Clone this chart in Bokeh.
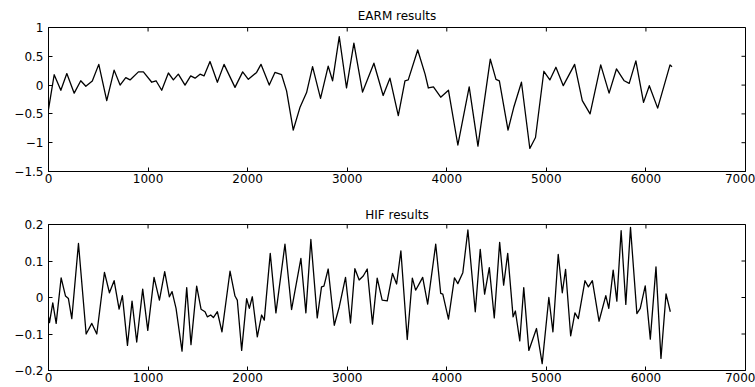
import math
from bokeh.plotting import figure
from bokeh.layouts import column
from bokeh.models import Range1d, FixedTicker, LinearAxis
from bokeh.embed import file_html
from bokeh.resources import INLINE

# ---- data ----
earm_x = [0, 57, 124, 184, 258, 324, 375, 440, 505, 585, 659, 719, 776, 819, 903, 953,
          1037, 1080, 1137, 1204, 1254, 1304, 1371, 1428, 1472, 1522, 1562, 1622, 1696,
          1763, 1873, 1950, 2007, 2090, 2134, 2217, 2274, 2341, 2391, 2458, 2525, 2592,
          2652, 2732, 2809, 2853, 2920, 2993, 3067, 3154, 3268, 3361, 3429, 3513, 3580,
          3613, 3708, 3782, 3815, 3866, 3939, 4017, 4111, 4225, 4313, 4437, 4494, 4528,
          4615, 4672, 4750, 4834, 4891, 4975, 5035, 5096, 5170, 5284, 5361, 5439, 5546,
          5630, 5704, 5782, 5832, 5899, 5976, 6034, 6118, 6242, 6262]
earm_y = [-0.42, 0.18, -0.09, 0.20, -0.14, 0.075, -0.02, 0.07, 0.36, -0.27, 0.26, 0.0,
          0.13, 0.09, 0.23, 0.23, 0.05, 0.075, -0.09, 0.21, 0.09, 0.19, 0.0, 0.16, 0.12,
          0.19, 0.16, 0.41, 0.05, 0.36, -0.04, 0.23, 0.10, 0.22, 0.36, 0.0, 0.22, 0.18,
          -0.10, -0.78, -0.39, -0.13, 0.32, -0.23, 0.33, 0.075, 0.84, -0.05, 0.73, -0.12,
          0.38, -0.18, 0.12, -0.53, 0.075, 0.09, 0.61, 0.19, -0.05, -0.03, -0.21, -0.09,
          -1.04, -0.03, -1.06, 0.45, 0.10, 0.075, -0.78, -0.39, 0.05, -1.10, -0.91, 0.24,
          0.09, 0.31, -0.01, 0.36, -0.27, -0.50, 0.35, -0.14, 0.28, 0.075, 0.03, 0.42,
          -0.30, -0.01, -0.40, 0.35, 0.32]

hif_x = [0, 10, 43, 77, 127, 171, 200, 234, 301, 378, 435, 485, 562, 612, 659, 709, 742,
         793, 839, 886, 946, 997, 1060, 1114, 1167, 1214, 1241, 1281, 1341, 1388, 1431,
         1488, 1532, 1572, 1595, 1629, 1656, 1696, 1742, 1823, 1873, 1896, 1940, 1990,
         2017, 2047, 2097, 2140, 2167, 2227, 2284, 2375, 2441, 2535, 2585, 2635, 2699,
         2742, 2766, 2809, 2870, 2920, 2983, 3033, 3077, 3120, 3161, 3201, 3254, 3301,
         3351, 3402, 3455, 3496, 3539, 3603, 3654, 3687, 3724, 3758, 3808, 3889, 3939,
         3960, 4017, 4077, 4111, 4161, 4212, 4286, 4336, 4380, 4427, 4477, 4531, 4571,
         4612, 4666, 4689, 4733, 4773, 4824, 4901, 4958, 5025, 5066, 5119, 5160, 5193,
         5244, 5287, 5321, 5388, 5422, 5462, 5529, 5597, 5627, 5671, 5708, 5751, 5798,
         5845, 5909, 5943, 5993, 6044, 6101, 6151, 6202, 6245]
hif_y = [-0.053, -0.069, -0.015, -0.071, 0.054, 0.004, -0.003, -0.058, 0.148, -0.100,
         -0.071, -0.100, 0.069, 0.013, 0.046, -0.032, 0.005, -0.131, -0.010, -0.122,
         0.023, -0.090, 0.055, -0.007, 0.071, 0.002, 0.016, -0.030, -0.147, 0.027, -0.129,
         0.031, -0.032, -0.039, -0.053, -0.048, -0.055, -0.039, -0.094, 0.072, 0.004,
         -0.007, -0.145, -0.003, -0.030, 0.002, -0.108, -0.048, -0.062, 0.121, -0.042,
         0.146, -0.033, 0.107, -0.042, 0.159, -0.056, 0.029, 0.031, 0.078, -0.076, -0.026,
         0.055, -0.070, 0.079, 0.048, 0.059, 0.078, -0.073, 0.053, -0.007, -0.009, 0.066,
         0.037, 0.128, -0.115, 0.053, 0.020, 0.038, 0.055, -0.018, 0.146, 0.011, 0.009,
         -0.059, 0.054, 0.038, 0.068, 0.185, -0.039, 0.132, 0.009, 0.082, -0.056, 0.151,
         0.034, 0.121, -0.053, -0.037, -0.119, 0.027, -0.145, -0.085, -0.181, 0.000,
         -0.094, 0.118, 0.013, 0.077, -0.105, -0.042, -0.058, 0.046, 0.029, 0.046, -0.065,
         0.005, -0.030, 0.075, -0.010, 0.183, -0.019, 0.192, -0.044, -0.030, 0.032, -0.114,
         0.084, -0.167, 0.010, -0.039]

x_ticks = [0, 1000, 2000, 3000, 4000, 5000, 6000, 7000]
x_tick_labels = ["0", "1000", "2000", "3000", "4000", "5000", "6000", "7000"]
earm_y_ticks = [-1.5, -1, -0.5, 0, 0.5, 1]
earm_y_labels = ["\u22121.5", "\u22121", "\u22120.5", "0", "0.5", "1"]
hif_y_ticks = [-0.2, -0.1, 0, 0.1, 0.2]
hif_y_labels = ["\u22120.2", "\u22120.1", "0", "0.1", "0.2"]

FONT = "DejaVu Sans"


def style_axis(ax, ticks, labels, standoff):
    ax.ticker = FixedTicker(ticks=ticks)
    ax.major_tick_in = 4
    ax.major_tick_out = 0
    ax.minor_tick_line_color = None
    ax.axis_line_color = "black"
    ax.major_tick_line_color = "black"
    ax.major_label_overrides = {t: l for t, l in zip(ticks, labels)}
    ax.major_label_text_font = FONT
    ax.major_label_text_font_size = "12px"
    ax.major_label_text_color = "black"
    ax.major_label_standoff = standoff


def make(title, xs, ys, yticks, ylabels, height, top, bottom, title_gap):
    p = figure(width=755, height=height,
               x_range=Range1d(x_ticks[0], x_ticks[-1]),
               y_range=Range1d(yticks[0], yticks[-1]),
               output_backend="svg", toolbar_location=None,
               min_border_left=48, min_border_right=10, min_border_top=top,
               min_border_bottom=bottom, x_axis_type=None, y_axis_type=None)
    p.title.text = title
    p.title.align = "center"
    p.title.text_font = FONT
    p.title.text_font_size = "12px"
    p.title.text_font_style = "normal"
    p.title.text_color = "black"
    p.title.standoff = title_gap
    p.outline_line_color = "black"
    p.xgrid.visible = False
    p.ygrid.visible = False
    xb = LinearAxis()
    style_axis(xb, x_ticks, x_tick_labels, 2)
    p.add_layout(xb, "below")
    yl = LinearAxis()
    style_axis(yl, yticks, ylabels, 5)
    p.add_layout(yl, "left")
    # mirrored inward ticks on the top and right edges of the box
    p.scatter(x_ticks, [yticks[-1]] * len(x_ticks), marker="dash", size=8,
              angle=math.pi / 2, line_color="black", line_width=1)
    p.scatter([x_ticks[-1]] * len(yticks), yticks, marker="dash", size=8,
              line_color="black", line_width=1)
    p.line(xs, ys, line_color="black", line_width=1.3, line_join="round")
    return p


p1 = make("EARM results", earm_x, earm_y, earm_y_ticks, earm_y_labels, 197, 27, 26, 9)
p2 = make("HIF results", hif_x, hif_y, hif_y_ticks, hif_y_labels, 190, 27, 17, 6)
layout = column(p1, p2, spacing=0)

open("out.html", "w").write(file_html(layout, INLINE))
